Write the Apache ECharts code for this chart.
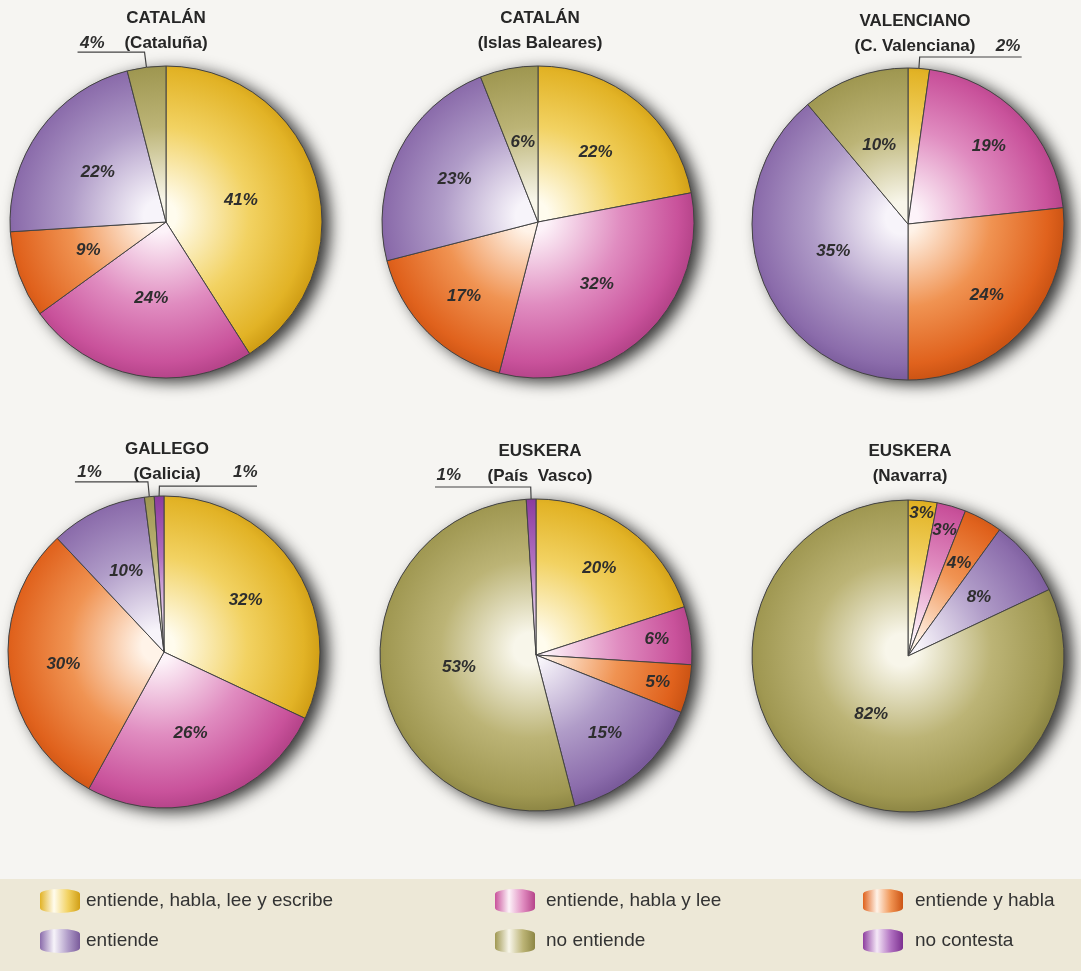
<!DOCTYPE html>
<html>
<head>
<meta charset="utf-8">
<script src="https://cdn.jsdelivr.net/npm/echarts@6/dist/echarts.min.js"></script>
<style>
html,body{margin:0;padding:0;background:#f6f5f2;}
#c{width:1081px;height:971px;}
</style>
</head>
<body>
<div id="c"></div>
<script>
// ---------- DATA ----------
const categories = [
  'entiende, habla, lee y escribe',
  'entiende, habla y lee',
  'entiende y habla',
  'entiende',
  'no entiende',
  'no contesta'
];
const titlesMain = ['CATALÁN', 'CATALÁN', 'VALENCIANO', 'GALLEGO', 'EUSKERA', 'EUSKERA'];
const titlesSub = ['(Cataluña)', '(Islas Baleares)', '(C. Valenciana)', '(Galicia)', '(País  Vasco)', '(Navarra)'];
// values per category (same order as categories); 0 = not present
const cataluna   = [41, 24,  9, 22,  4, 0];
const baleares   = [22, 32, 17, 23,  6, 0];
const valenciana = [ 2, 19, 24, 35, 10, 0];
const galicia    = [32, 26, 30, 10,  1, 1];
const paisVasco  = [20,  6,  5, 15, 53, 1];
const navarra    = [ 3,  3,  4,  8, 82, 0];
const pieValues = [cataluna, baleares, valenciana, galicia, paisVasco, navarra];

// ---------- STYLE / LAYOUT ----------
const FONT = '"Liberation Sans", Arial, Helvetica, sans-serif';
const centers = [[166, 222], [538, 222], [908, 224], [164, 652], [536, 655], [908, 656]];
const R = 156;
const titlePos = [[166, 6], [540, 6], [915, 9], [167, 437], [540, 439], [910, 439]];
// [center, mid, edge, darkEdge]
const palette = [
  ['#fffcee', '#f2d262', '#e2b326', '#d19f16'],
  ['#fdf3f9', '#e08cc0', '#c9529b', '#b6448a'],
  ['#fff3e8', '#f09352', '#e0621d', '#cc5414'],
  ['#f7f4fa', '#b09cc8', '#8b6cab', '#7a5b9b'],
  ['#f8f6ea', '#bcb476', '#a09852', '#8d8644'],
  ['#f5e8f7', '#b070c0', '#8e3ea0', '#7c3090']
];
// inside label distance from centre as fraction of radius
const labelFrac = [
  [0.50, 0.50, 0.53, 0.54, null, null],
  [0.58, 0.55, 0.67, 0.60, 0.52, null],
  [null, 0.72, 0.68, 0.51, 0.54, null],
  [0.62, 0.55, 0.65, 0.57, null, null],
  [0.69, 0.78, 0.80, 0.67, 0.50, null],
  [0.92, 0.84, 0.68, 0.59, 0.44, null]
];
// outside labels with leader lines: key = pie-category
const outsideLabel = {
  '0-4': {L: 15.3, L2: 67, d: -27, up: 9},
  '2-0': {L: 11.4, L2: 102, d: -26, up: 11},
  '3-4': {L: 14.8, L2: 73, d: -27, up: 10},
  '3-5': {L: 10, L2: 97.6, d: -24, up: 14, mirror: true},
  '4-5': {L: 12.1, L2: 95.7, d: -26, up: 12}
};
const legendLeft = [40, 495, 863];
const legendPad = [1, 6, 7];

function radial(ci, c) {
  const p = palette[ci];
  return {
    type: 'radial', x: c[0] - 6, y: c[1] - 6, r: R * 1.04, global: true,
    colorStops: [
      {offset: 0, color: p[0]},
      {offset: 0.1, color: p[0]},
      {offset: 0.55, color: p[1]},
      {offset: 0.9, color: p[2]},
      {offset: 1, color: p[3]}
    ]
  };
}
function linear(ci) {
  const p = palette[ci];
  return {
    type: 'linear', x: 0, y: 0, x2: 1, y2: 0,
    colorStops: [
      {offset: 0, color: p[2]},
      {offset: 0.35, color: p[0]},
      {offset: 0.7, color: p[1]},
      {offset: 1, color: p[3]}
    ]
  };
}

function makeLayout(pi, cats) {
  return function (p) {
    const cat = cats[p.dataIndex];
    const o = outsideLabel[pi + '-' + cat];
    const c = centers[pi];
    const rc = p.labelRect;
    if (o) {
      const pts = p.labelLinePoints;
      if (!pts) return {};
      const x1 = pts[0][0];
      const m = v => o.mirror ? 2 * x1 - v : v;
      const left = o.mirror ? m(rc.x + rc.width) : rc.x;
      return {
        x: left,
        y: rc.y + rc.height / 2 - o.up,
        align: 'left', verticalAlign: 'middle',
        labelLinePoints: pts.map(q => [m(q[0]), q[1]])
      };
    }
    const f = labelFrac[pi][cat];
    if (f == null) return {};
    const lx = rc.x + rc.width / 2;
    const ly = rc.y + rc.height / 2;
    const vx = lx - c[0], vy = ly - c[1];
    const dd = Math.hypot(vx, vy) || 1;
    return {x: c[0] + vx / dd * f * R, y: c[1] + vy / dd * f * R, align: 'center', verticalAlign: 'middle'};
  };
}

const labelText = {fontSize: 17, fontWeight: 'bold', fontStyle: 'italic', color: '#2e2e2e', fontFamily: FONT};

const series = [];
pieValues.forEach((vals, pi) => {
  const c = centers[pi];
  // shadow disc under the pie
  series.push({
    type: 'pie', center: c, radius: R, silent: true, z: 1, animation: false,
    label: {show: false}, labelLine: {show: false}, emphasis: {disabled: true}, tooltip: {show: false},
    itemStyle: {color: '#6a6a6a', shadowBlur: 16, shadowOffsetX: 8, shadowOffsetY: 4, shadowColor: 'rgba(0,0,0,0.8)'},
    data: [{name: '_shadow' + pi, value: 1}]
  });
  const cats = [];
  const items = [];
  vals.forEach((v, ci) => {
    if (!(v > 0)) return;
    cats.push(ci);
    const it = {name: categories[ci], value: v, itemStyle: {color: radial(ci, c)}};
    const o = outsideLabel[pi + '-' + ci];
    if (o) {
      it.label = {position: 'outside', distanceToLabelLine: o.d};
      it.labelLine = {show: true, length: o.L, length2: o.L2, smooth: false, lineStyle: {color: '#444', width: 1.2}};
    }
    items.push(it);
  });
  series.push({
    type: 'pie', center: c, radius: R, startAngle: 90, clockwise: true,
    avoidLabelOverlap: false, z: 2, animation: false,
    label: Object.assign({show: true, position: 'inside', formatter: '{c}%'}, labelText),
    labelLine: {show: false},
    itemStyle: {borderColor: '#444', borderWidth: 1},
    emphasis: {disabled: true},
    data: items,
    labelLayout: makeLayout(pi, cats)
  });
});

const option = {
  backgroundColor: '#f6f5f2',
  animation: false,
  title: titlesMain.map((t, i) => ({
    text: t + '\n' + titlesSub[i],
    left: titlePos[i][0], top: titlePos[i][1], textAlign: 'center', padding: 0,
    textStyle: {fontSize: 17, fontWeight: 'bold', color: '#262626', lineHeight: 25, fontFamily: FONT}
  })),
  graphic: [{
    type: 'rect', silent: true, z: 0,
    shape: {x: 0, y: 879, width: 1081, height: 92},
    style: {fill: '#ede8d7'}
  }],
  legend: [0, 1, 2].map(col => ({
    orient: 'vertical', left: legendLeft[col], top: 889, padding: 0,
    itemWidth: 40, itemHeight: 24, itemGap: 16, selectedMode: false,
    icon: 'path://M0,5 A20,5 0 0 1 40,5 L40,19 A20,5 0 0 1 0,19 Z',
    itemStyle: {borderWidth: 0},
    textStyle: {fontSize: 19, color: '#333', fontFamily: FONT, padding: [0, 0, 0, legendPad[col]]},
    data: [col, col + 3].map(ci => ({name: categories[ci], itemStyle: {color: linear(ci), borderWidth: 0}}))
  })),
  series: series
};

const chart = echarts.init(document.getElementById('c'), null, {renderer: 'canvas'});
chart.setOption(option);
</script>
</body>
</html>
